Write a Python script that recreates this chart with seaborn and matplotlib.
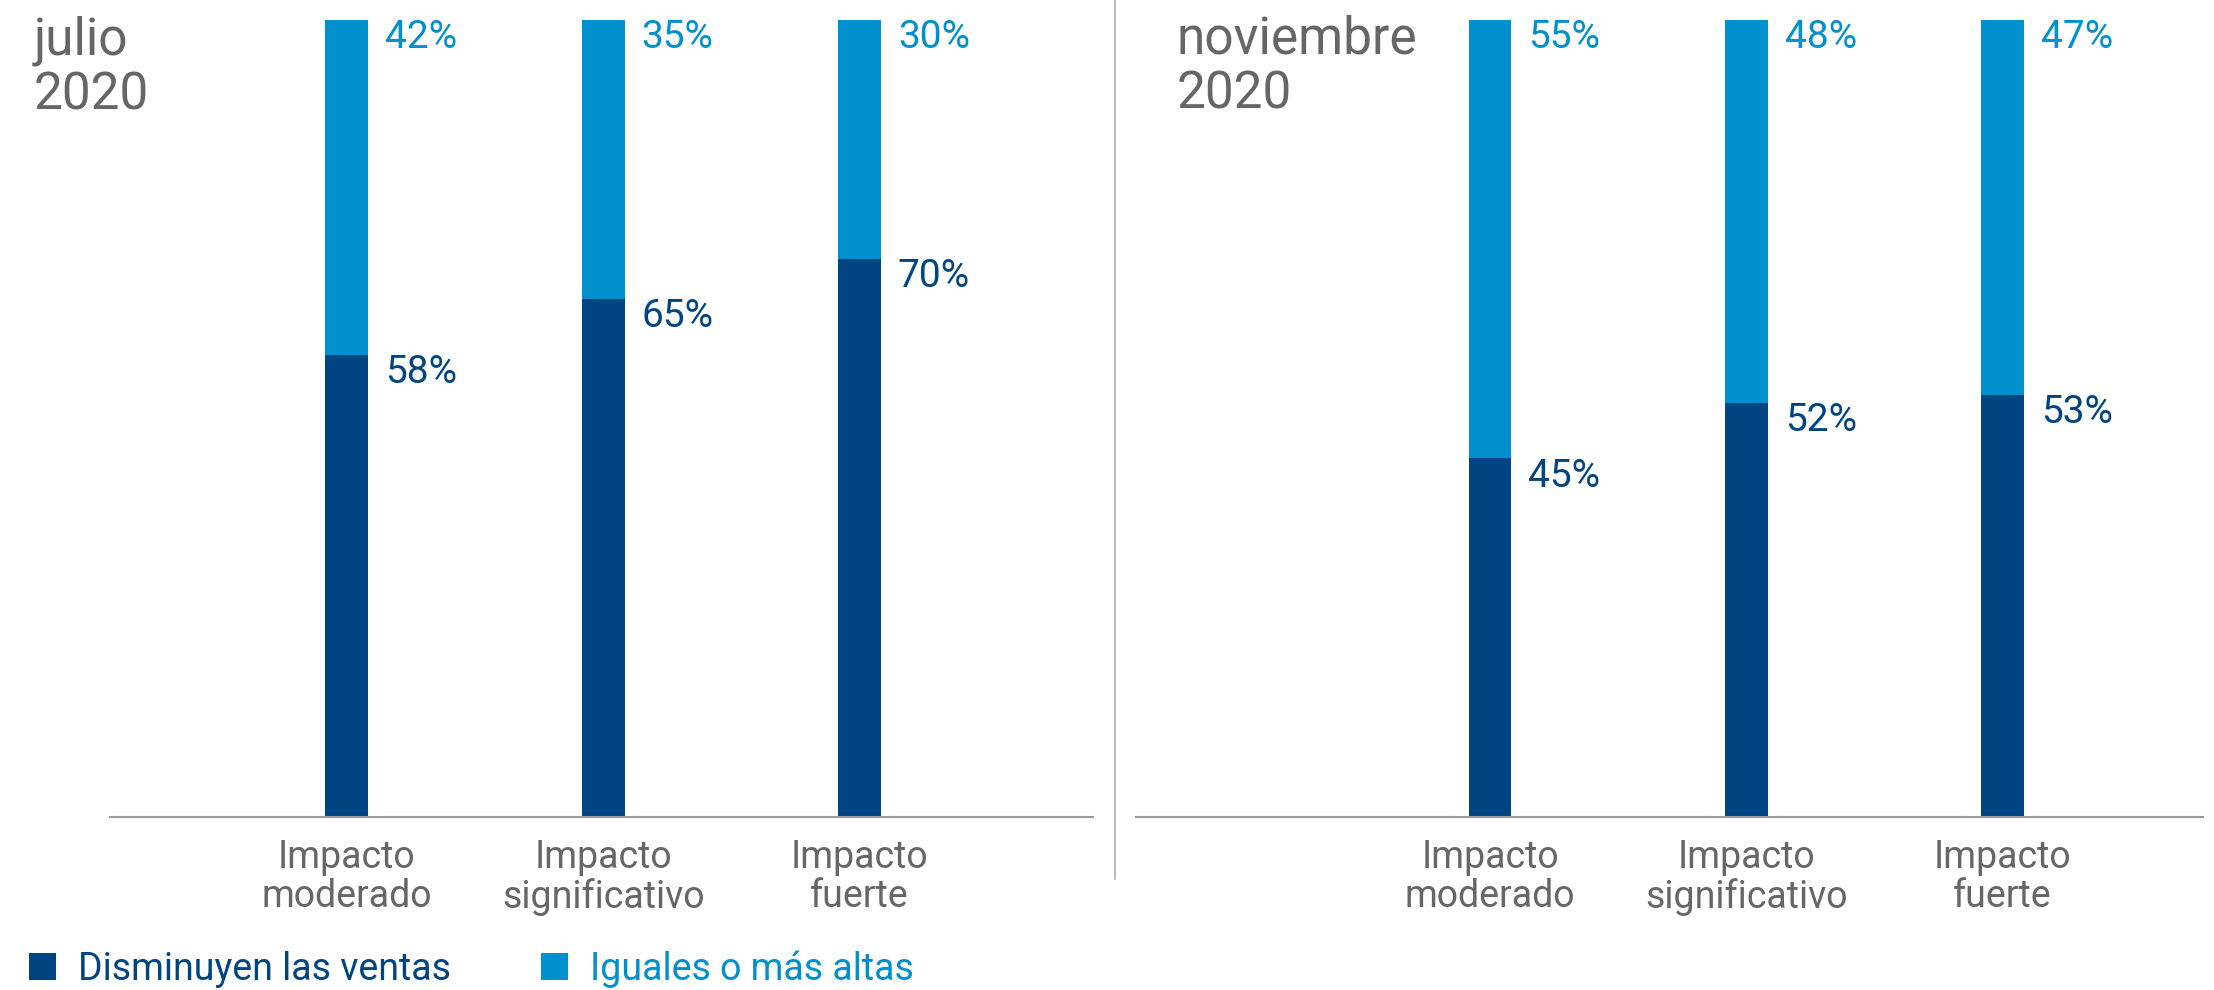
import matplotlib
matplotlib.use("Agg")
import matplotlib.pyplot as plt
from matplotlib.lines import Line2D
from matplotlib.patches import Patch
import seaborn as sns
import pandas as pd

# Survey results: share of firms by sales outcome, per impact level
categorias = ["Impacto\nmoderado", "Impacto\nsignificativo", "Impacto\nfuerte"]
periodos = ["julio\n2020", "noviembre\n2020"]
jul_disminuyen = [58, 65, 70]
jul_iguales = [42, 35, 30]
nov_disminuyen = [45, 52, 53]
nov_iguales = [55, 48, 47]
serie_nombres = ["Disminuyen las ventas", "Iguales o más altas"]

OSCURO = "#004481"
CLARO = "#0090CD"
GRIS_TXT = "#666666"
GRIS_EJE = "#9A9A9A"
GRIS_DIV = "#BDBDBD"

sns.set_theme(style="white")
plt.rcParams["font.family"] = ["Roboto", "DejaVu Sans"]

W, H = 2214, 990
fig = plt.figure(figsize=(W / 100, H / 100), dpi=100)


def fx(px):
    return px / W


def fy(py):
    return 1 - py / H


BASE_Y, TOP_Y = 817, 20
paneles = [
    dict(titulo=periodos[0], dis=jul_disminuyen, igu=jul_iguales,
         left=110, right=1093, c0=346.5, paso=256.5, tx=34),
    dict(titulo=periodos[1], dis=nov_disminuyen, igu=nov_iguales,
         left=1136, right=2203, c0=1490, paso=256.25, tx=1177),
]
ANCHO = 43 / 256.5

for p in paneles:
    ax = fig.add_axes([fx(p["left"]), fy(BASE_Y), (p["right"] - p["left"]) / W,
                       (BASE_Y - TOP_Y) / H])
    df = pd.DataFrame({"cat": categorias, "dis": p["dis"], "igu": p["igu"]})
    df["total"] = df["dis"] + df["igu"]
    sns.barplot(data=df, x="cat", y="total", color=CLARO, saturation=1,
                width=ANCHO, errorbar=None, linewidth=0, ax=ax)
    sns.barplot(data=df, x="cat", y="dis", color=OSCURO, saturation=1,
                width=ANCHO, errorbar=None, linewidth=0, ax=ax)

    for i, row in df.iterrows():
        ax.annotate(f"{row['igu']}%", xy=(i + ANCHO / 2, row["total"]),
                    xytext=(12.2, 1), textcoords="offset points",
                    ha="left", va="top", fontsize=28, color=CLARO)
        ax.annotate(f"{row['dis']}%", xy=(i + ANCHO / 2, row["dis"]),
                    xytext=(12.2, 0.5), textcoords="offset points",
                    ha="left", va="top", fontsize=28, color=OSCURO)

    ax.set_xlim((p["left"] - p["c0"]) / p["paso"], (p["right"] - p["c0"]) / p["paso"])
    ax.set_ylim(0, 100)
    ax.set_xlabel("")
    ax.set_ylabel("")
    ax.set_yticks([])
    ax.set_xticks(range(len(categorias)))
    ax.set_xticklabels(categorias, fontsize=27, color=GRIS_TXT, linespacing=1.05)
    ax.tick_params(axis="x", length=0, pad=16)
    for s in ["left", "right", "top"]:
        ax.spines[s].set_visible(False)
    ax.spines["bottom"].set_color(GRIS_EJE)
    ax.spines["bottom"].set_linewidth(1.5)
    ax.patch.set_alpha(0)

    fig.text(fx(p["tx"]), fy(15), p["titulo"], ha="left", va="top",
             fontsize=37, color=GRIS_TXT, linespacing=1.12)

# Divider between the two periods
fig.add_artist(Line2D([fx(1115), fx(1115)], [fy(0), fy(879)],
                      transform=fig.transFigure, color=GRIS_DIV, lw=1.5))

# Legend, one entry per series
for nombre, color, x0 in [(serie_nombres[0], OSCURO, 29),
                          (serie_nombres[1], CLARO, 541)]:
    fig.legend(handles=[Patch(facecolor=color, edgecolor="none", label=nombre)],
               loc="center left", bbox_to_anchor=(fx(x0), fy(969)),
               frameon=False, borderpad=0, borderaxespad=0,
               handlelength=0.72, handleheight=0.72, handletextpad=0.6,
               prop={"size": 27}, labelcolor=color)

fig.savefig("out.png", dpi=100)
